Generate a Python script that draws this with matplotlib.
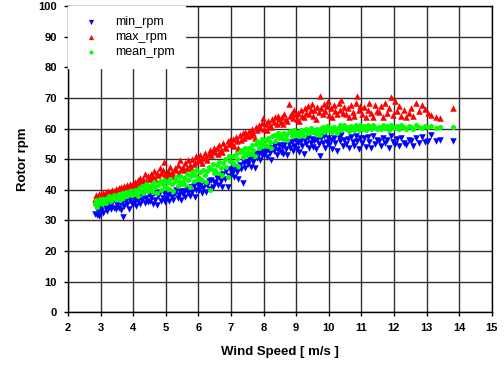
import matplotlib
matplotlib.use('Agg')
import matplotlib.pyplot as plt

# wind speed [m/s] of each 10-min record, with min / max / mean rotor rpm
wind_speed = [
    2.84, 2.86, 2.88, 2.91, 2.94, 2.97,
    3.01, 3.04, 3.08, 3.11, 3.15, 3.19, 3.23, 3.27, 3.31, 3.36, 3.41, 3.46,
    3.51, 3.55, 3.58, 3.62, 3.66, 3.69, 3.72, 3.77, 3.81, 3.86, 3.91, 3.96,
    4.02, 4.06, 4.10, 4.14, 4.18, 4.22, 4.27, 4.31, 4.35, 4.40, 4.44, 4.48,
    4.52, 4.56, 4.60, 4.64, 4.68, 4.73, 4.77, 4.81, 4.86, 4.90, 4.94, 4.98,
    5.02, 5.06, 5.10, 5.14, 5.19, 5.23, 5.27, 5.31, 5.36, 5.40, 5.44, 5.48,
    5.52, 5.56, 5.60, 5.64, 5.69, 5.73, 5.77, 5.81, 5.86, 5.90, 5.94, 5.98,
    6.02, 6.06, 6.10, 6.14, 6.19, 6.23, 6.27, 6.31, 6.36, 6.40, 6.44, 6.48,
    6.52, 6.56, 6.60, 6.64, 6.69, 6.73, 6.77, 6.81, 6.86, 6.90, 6.94, 6.98,
    7.02, 7.06, 7.10, 7.14, 7.19, 7.23, 7.27, 7.31, 7.36, 7.40, 7.44, 7.48,
    7.52, 7.56, 7.60, 7.64, 7.69, 7.73, 7.77, 7.81, 7.86, 7.90, 7.94, 7.98,
    8.02, 8.06, 8.10, 8.14, 8.19, 8.23, 8.27, 8.31, 8.36, 8.40, 8.44, 8.48,
    8.52, 8.56, 8.60, 8.64, 8.69, 8.73, 8.77, 8.81, 8.86, 8.90, 8.94, 8.98,
    9.02, 9.06, 9.10, 9.14, 9.19, 9.23, 9.27, 9.31, 9.36, 9.40, 9.44, 9.48,
    9.52, 9.56, 9.60, 9.64, 9.69, 9.73, 9.77, 9.81, 9.86, 9.90, 9.94, 9.98,
    10.02, 10.07, 10.11, 10.16, 10.20, 10.25, 10.30, 10.34, 10.39, 10.43, 10.48,
    10.53, 10.58, 10.63, 10.68, 10.73, 10.78, 10.83, 10.88, 10.92, 10.97,
    11.03, 11.08, 11.14, 11.19, 11.25, 11.30, 11.36, 11.41, 11.47,
    11.53, 11.59, 11.65, 11.72, 11.78, 11.84, 11.90, 11.96,
    12.02, 12.08, 12.15, 12.22, 12.30, 12.38, 12.45,
    12.52, 12.60, 12.68, 12.77, 12.86, 12.95,
    13.05, 13.15, 13.30, 13.42, 13.80,
]

mean_rpm = [
    35.2, 36.8, 34.5, 36.0, 35.6, 37.0,
    36.2, 35.4, 37.0, 36.5, 35.8, 37.4, 36.9, 38.0, 36.2, 37.6, 38.2, 37.1,
    37.8, 38.6, 36.8, 37.5, 38.9, 37.2, 38.4, 39.2, 37.9, 38.7, 39.6, 38.2,
    38.6, 40.0, 39.2, 38.0, 40.6, 39.5, 41.2, 38.8, 40.4, 41.8, 39.6, 40.9,
    40.2, 41.6, 39.4, 42.4, 40.8, 38.8, 41.4, 42.8, 40.0, 41.9, 43.2, 40.6,
    41.0, 42.6, 40.2, 43.4, 41.8, 39.6, 42.8, 44.2, 41.2, 43.0, 44.6, 42.0,
    42.4, 44.0, 41.6, 45.0, 43.2, 41.0, 44.4, 45.8, 42.8, 44.8, 46.4, 43.6,
    44.0, 45.8, 43.2, 46.6, 44.8, 42.6, 46.2, 47.6, 40.0, 46.8, 48.4, 45.4,
    46.4, 48.2, 45.6, 49.0, 47.2, 44.8, 48.8, 50.2, 47.6, 44.2, 51.0, 49.4,
    49.2, 51.0, 48.4, 51.8, 50.2, 47.8, 52.4, 53.0, 50.6, 52.0, 53.6, 51.4,
    52.2, 53.8, 51.6, 54.6, 53.0, 51.0, 55.0, 55.8, 53.6, 55.2, 56.6, 54.4,
    55.0, 56.4, 54.2, 57.0, 55.6, 53.8, 57.4, 58.0, 56.0, 57.6, 58.6, 56.8,
    57.2, 58.2, 56.6, 58.6, 57.8, 56.4, 58.8, 59.2, 57.6, 58.4, 59.4, 58.0,
    58.2, 59.0, 57.6, 59.4, 58.6, 57.4, 59.6, 60.0, 58.4, 59.2, 60.2, 58.8,
    58.8, 59.6, 58.2, 60.0, 59.2, 58.0, 60.2, 60.6, 59.0, 59.8, 60.8, 59.4,
    59.4, 60.2, 58.8, 60.6, 59.8, 58.6, 60.4, 61.0, 59.6, 60.2, 61.2,
    59.8, 60.6, 59.2, 60.8, 60.0, 59.4, 61.0, 60.4, 59.6, 61.2,
    60.0, 60.8, 59.4, 61.0, 60.2, 59.8, 61.2, 60.4, 60.0,
    60.6, 59.8, 61.0, 60.2, 60.8, 59.6, 61.2, 60.4,
    60.2, 60.8, 59.8, 61.0, 60.4, 60.0, 60.8,
    60.6, 60.0, 61.0, 60.4, 60.2, 60.8,
    60.4, 60.8, 60.2, 60.6, 60.6,
]

max_rpm = [
    37.0, 38.2, 36.8, 37.8, 38.6, 38.0,
    38.5, 37.6, 39.0, 38.2, 39.4, 38.8, 39.6, 38.4, 39.2, 40.0, 39.5, 40.3,
    39.8, 40.6, 40.0, 41.0, 40.4, 39.6, 41.2, 40.8, 41.6, 40.2, 41.8, 41.4,
    41.5, 42.6, 41.0, 43.2, 42.0, 44.0, 42.8, 43.6, 45.0, 42.4, 44.4, 43.4,
    43.8, 45.2, 44.2, 46.2, 43.6, 45.6, 44.8, 47.0, 45.4, 46.6, 49.2, 45.0,
    44.6, 46.2, 45.0, 47.4, 45.8, 44.4, 47.0, 46.4, 48.2, 45.6, 49.8, 46.8,
    47.6, 46.4, 48.8, 47.2, 49.6, 48.0, 47.0, 50.2, 48.4, 49.2, 51.0, 49.8,
    49.6, 51.2, 48.8, 50.4, 52.0, 50.8, 49.8, 51.8, 53.0, 51.4, 52.6, 53.6,
    52.2, 53.8, 51.6, 54.6, 53.0, 52.4, 55.2, 54.0, 53.6, 55.8, 54.8, 56.4,
    55.0, 56.6, 54.4, 57.2, 55.8, 53.8, 57.8, 56.4, 58.4, 57.0, 59.0, 58.0,
    57.4, 59.2, 58.0, 60.0, 58.6, 57.0, 60.6, 59.6, 61.2, 60.2, 61.8, 63.4,
    60.0, 61.6, 59.4, 62.4, 61.0, 60.4, 63.0, 62.0, 63.6, 61.4, 64.2, 63.2,
    62.0, 63.8, 61.4, 64.6, 63.0, 62.4, 68.0, 64.0, 65.2, 63.4, 66.0, 64.8,
    63.0, 65.2, 62.4, 66.0, 64.2, 63.6, 66.8, 65.0, 67.4, 64.6, 66.2, 68.0,
    64.0, 66.2, 63.2, 67.0, 65.4, 70.6, 66.8, 64.6, 68.0, 65.8, 67.4, 69.0,
    64.4, 66.6, 63.6, 67.6, 65.8, 64.8, 68.4, 66.0, 69.2, 65.2, 67.0,
    64.6, 66.8, 63.8, 67.6, 65.4, 64.2, 68.2, 70.6, 66.0, 67.2,
    64.8, 67.0, 63.8, 66.2, 68.4, 65.0, 63.6, 67.6, 65.8,
    65.4, 67.2, 63.6, 68.4, 65.0, 66.6, 70.4, 64.4,
    69.0, 65.6, 67.4, 64.2, 66.0, 63.6, 65.2,
    66.8, 64.0, 68.2, 65.6, 67.6, 66.4,
    65.0, 64.4, 63.8, 63.4, 66.6,
]

min_rpm = [
    32.0, 34.5, 31.8, 33.2, 31.5, 34.8,
    33.0, 34.8, 32.5, 35.2, 34.0, 33.2, 35.6, 34.4, 33.6, 35.8, 34.2, 33.8,
    35.0, 34.2, 36.0, 33.5, 35.6, 31.2, 34.8, 36.4, 35.2, 33.8, 36.8, 35.4,
    35.6, 37.0, 34.8, 36.4, 37.8, 35.2, 36.8, 38.2, 35.8, 37.2, 36.0, 38.6,
    36.4, 37.6, 35.4, 38.8, 36.8, 35.0, 38.0, 39.4, 36.2, 37.4, 39.0, 36.0,
    37.0, 38.4, 36.2, 39.2, 37.6, 36.6, 38.8, 40.0, 37.2, 38.2, 39.6, 36.8,
    38.6, 39.6, 37.6, 40.4, 39.0, 38.0, 40.8, 39.4, 41.2, 37.8, 40.0, 41.6,
    39.8, 41.2, 38.8, 40.6, 42.0, 39.4, 41.6, 42.8, 40.4, 43.2, 41.0, 42.4,
    42.2, 43.8, 41.4, 44.6, 42.8, 40.8, 45.2, 43.6, 46.0, 41.0, 44.4, 46.8,
    45.0, 46.6, 44.2, 47.4, 45.8, 43.6, 48.0, 46.8, 42.2, 48.6, 47.2, 49.2,
    48.4, 50.0, 47.6, 50.8, 49.2, 47.2, 51.6, 50.4, 52.0, 49.6, 51.2, 52.6,
    51.2, 52.8, 50.6, 53.4, 52.0, 49.8, 53.8, 52.6, 54.2, 51.4, 53.0, 54.6,
    52.4, 54.0, 51.8, 54.6, 53.2, 51.2, 55.0, 53.6, 55.6, 52.6, 54.2, 56.0,
    53.4, 55.2, 52.4, 55.8, 54.2, 51.6, 56.2, 54.8, 57.0, 53.6, 55.4, 56.6,
    54.0, 55.8, 53.2, 56.4, 54.8, 51.0, 56.8, 55.2, 57.4, 53.8, 55.6, 57.0,
    54.6, 56.2, 53.4, 56.8, 55.4, 52.6, 57.2, 55.8, 57.8, 54.2, 56.4,
    55.0, 56.6, 53.8, 57.2, 55.6, 54.2, 57.6, 55.8, 53.4, 56.8,
    55.2, 56.8, 54.0, 57.2, 55.6, 53.8, 57.6, 55.0, 56.2,
    55.8, 54.4, 57.0, 55.2, 56.4, 53.8, 57.4, 55.6,
    55.0, 56.6, 54.2, 57.0, 55.4, 54.6, 56.2,
    56.0, 54.4, 56.8, 55.2, 57.2, 55.6,
    56.0, 57.8, 55.8, 56.4, 55.9,
]

x_ticks = list(range(2, 16))
y_ticks = list(range(0, 101, 10))

plt.rcParams['font.family'] = ['Liberation Sans', 'DejaVu Sans']

fig = plt.figure(figsize=(5.04, 3.67), dpi=100)
ax = fig.add_axes([0.135, 0.149, 0.8406, 0.8347])

ax.scatter(wind_speed, min_rpm, marker='v', s=22, color='#0000FF', linewidths=0, label='min_rpm', zorder=3)
ax.scatter(wind_speed, max_rpm, marker='^', s=22, color='#FF0000', linewidths=0, label='max_rpm', zorder=3)
ax.scatter(wind_speed, mean_rpm, marker='o', s=13, color='#00FF00', linewidths=0, label='mean_rpm', zorder=3)

ax.set_xlim(2, 15)
ax.set_ylim(0, 100)
ax.set_xticks(x_ticks)
ax.set_yticks(y_ticks)
ax.grid(True, color='#303030', linewidth=1.0)
ax.set_axisbelow(True)
for s in ax.spines.values():
    s.set_color('black')
    s.set_linewidth(1.0)

ax.tick_params(direction='out', length=3, width=1, pad=5, labelsize=8)
for lab in ax.get_xticklabels() + ax.get_yticklabels():
    lab.set_fontweight('bold')

ax.set_xlabel('Wind Speed [ m/s ]', fontsize=9.5, fontweight='bold', labelpad=9)
ax.set_ylabel('Rotor rpm', fontsize=9.5, fontweight='bold', labelpad=7)

leg = ax.legend(loc='upper left', bbox_to_anchor=(0.0, 1.0), fontsize=9, frameon=True,
                fancybox=False, borderaxespad=0, handletextpad=1.0, labelspacing=0.25,
                borderpad=0.8, markerscale=0.8, scatterpoints=1)
leg.get_frame().set_edgecolor('white')
leg.get_frame().set_facecolor('white')
leg.get_frame().set_alpha(1.0)
leg.set_zorder(5)

fig.savefig('out.png', dpi=100)
